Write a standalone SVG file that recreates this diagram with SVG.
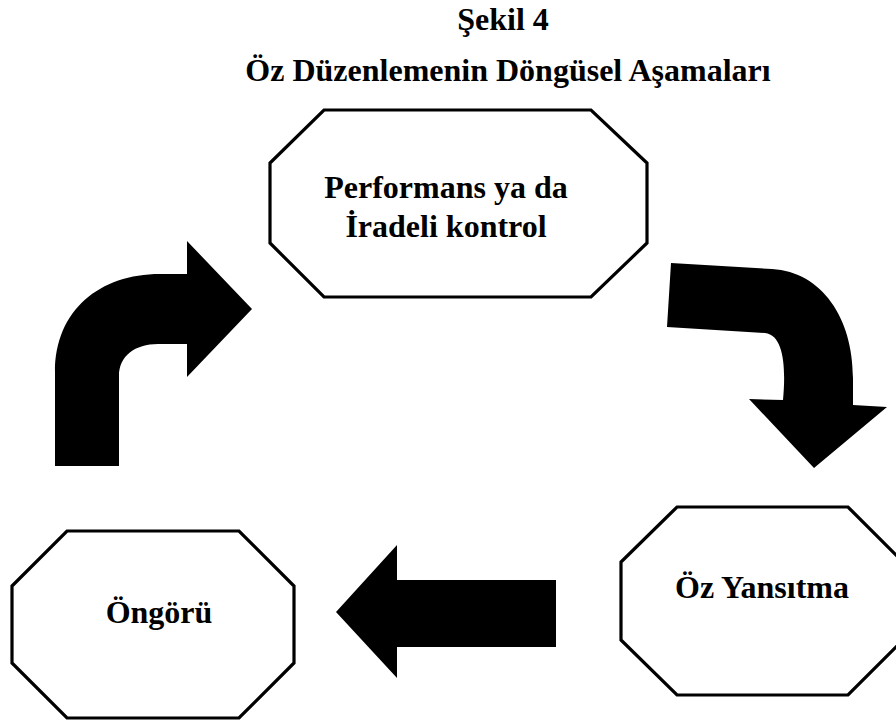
<svg xmlns="http://www.w3.org/2000/svg" width="896" height="722" viewBox="0 0 896 722">
  <style>
    .title { font-family: "Liberation Serif", "Times New Roman", serif; font-weight: bold; font-size: 32px; fill: #000; text-anchor: middle; }
    .label { font-family: "Liberation Serif", "Times New Roman", serif; font-weight: bold; font-size: 32px; fill: #000; text-anchor: middle; }
    .box { fill: #fff; stroke: #000; stroke-width: 3.2; stroke-linejoin: miter; }
    .arrow { fill: #000; stroke: none; }
  </style>
  <rect width="896" height="722" fill="#fff"/>

  <g id="title">
    <text class="title" x="503" y="30">Şekil 4</text>
    <text class="title" x="508" y="81">Öz Düzenlemenin Döngüsel Aşamaları</text>
  </g>

  <g id="performans">
    <polygon class="box" points="324,110 591,110 647,163 647,243 591,297 324,297 270,243 270,163"/>
    <text class="label" x="446" y="198">Performans ya da</text>
    <text class="label" x="446" y="237">İradeli kontrol</text>
  </g>

  <g id="oz-yansitma">
    <polygon class="box" points="677,507 848,507 903,562 903,640 848,695 677,695 621,640 621,562"/>
    <text class="label" x="762" y="598">Öz Yansıtma</text>
  </g>

  <g id="ongoru">
    <polygon class="box" points="67,531 239,531 294,586 294,663 239,718 67,718 12,663 12,586"/>
    <text class="label" x="159" y="623">Öngörü</text>
  </g>

  <g id="connectors">
    <!-- Öngörü to Performans: bent arrow going up then right -->
    <path class="arrow" d="M55,466 L55,372 C55,310 100,274 160,274 L187,274 L187,241 L252,309 L187,377 L187,344 L158,344 C135,344 119,356 119,376 L119,466 Z"/>
    <!-- Performans to Öz Yansıtma: bent arrow going right then down -->
    <path class="arrow" d="M671,263 L772,269 C822,272 853,318 853,378 L853,405 L887,407 L814,468 L749,399 L783,400 C786,368 784,335 765,333 L667,327 Z"/>
    <!-- Öz Yansıtma to Öngörü: straight arrow pointing left -->
    <polygon class="arrow" points="556,580 397,580 397,545 336,612 397,678 397,647 556,647"/>
  </g>
</svg>
